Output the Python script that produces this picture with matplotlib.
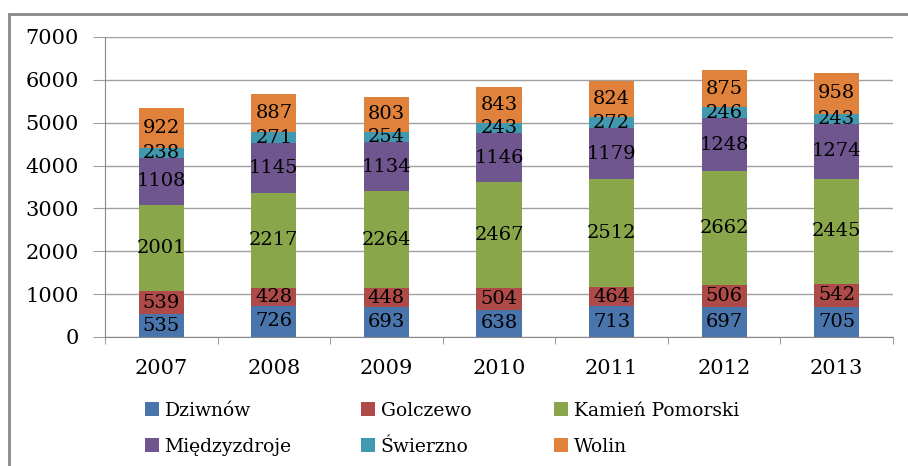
import numpy as np
import matplotlib.pyplot as plt
from matplotlib.patches import Rectangle

years = ['2007', '2008', '2009', '2010', '2011', '2012', '2013']
dziwnow = [535, 726, 693, 638, 713, 697, 705]
golczewo = [539, 428, 448, 504, 464, 506, 542]
kamien = [2001, 2217, 2264, 2467, 2512, 2662, 2445]
miedzyzdroje = [1108, 1145, 1134, 1146, 1179, 1248, 1274]
swierzno = [238, 271, 254, 243, 272, 246, 243]
wolin = [922, 887, 803, 843, 824, 875, 958]

series = [dziwnow, golczewo, kamien, miedzyzdroje, swierzno, wolin]
names = ['Dziwnów', 'Golczewo', 'Kamień Pomorski', 'Międzyzdroje', 'Świerzno', 'Wolin']
colors = ['#4A74AC', '#AE4A47', '#89A64B', '#70568F', '#4199B0', '#E0823B']

plt.rcParams['font.family'] = ['DejaVu Serif']

fig = plt.figure(figsize=(9.08, 4.66), dpi=100)
# outer chart frame (cut at right / bottom like the screenshot)
fig.patches.append(Rectangle((9 / 908, -0.05), 1.1, 1 - 14 / 466 + 0.05,
                             transform=fig.transFigure, fill=False,
                             edgecolor='#888888', linewidth=2))

ax = fig.add_axes([105 / 908, 1 - 337 / 466, 788 / 908, 300 / 466])
x = np.arange(len(years))
bottom = np.zeros(len(years))
for vals, name, c in zip(series, names, colors):
    vals = np.array(vals)
    ax.bar(x, vals, 0.4, bottom=bottom, color=c, label=name, zorder=2)
    for xi, b, v in zip(x, bottom, vals):
        ax.text(xi, b + v / 2, str(v), ha='center', va='center',
                fontsize=14, color='black', zorder=3)
    bottom += vals

ax.set_xlim(-0.5, len(years) - 0.5)
ax.set_ylim(0, 7000)
ax.set_yticks(range(0, 7001, 1000))
ax.yaxis.grid(True, color='#A0A0A0', linewidth=1, zorder=0)
ax.set_axisbelow(True)
ax.set_xticks(x)
ax.set_xticklabels(years, fontsize=15)
ax.set_xticks(np.arange(-0.5, len(years), 1), minor=True)
ax.tick_params(axis='x', which='major', length=0, pad=16)
ax.tick_params(axis='x', which='minor', length=5, color='#888888')
ax.tick_params(axis='y', length=9, color='#A0A0A0', labelsize=15, pad=10)
for s in ['top', 'right']:
    ax.spines[s].set_visible(False)
ax.spines['left'].set_color('#888888')
ax.spines['bottom'].set_color('#888888')

# legend: three separate columns, laid out row-wise like the original
handles, labels = ax.get_legend_handles_labels()
col_x = [128, 344, 537]
for j in range(3):
    h = [handles[j], handles[j + 3]]
    l = [labels[j], labels[j + 3]]
    leg = fig.legend(h, l, loc='upper left', bbox_to_anchor=(col_x[j] / 908, 1 - 385 / 466),
                     ncol=1, frameon=False, fontsize=13.5, handlelength=0.75,
                     handleheight=0.75, handletextpad=0.3, labelspacing=0.95)

fig.savefig('out.png', dpi=100)
